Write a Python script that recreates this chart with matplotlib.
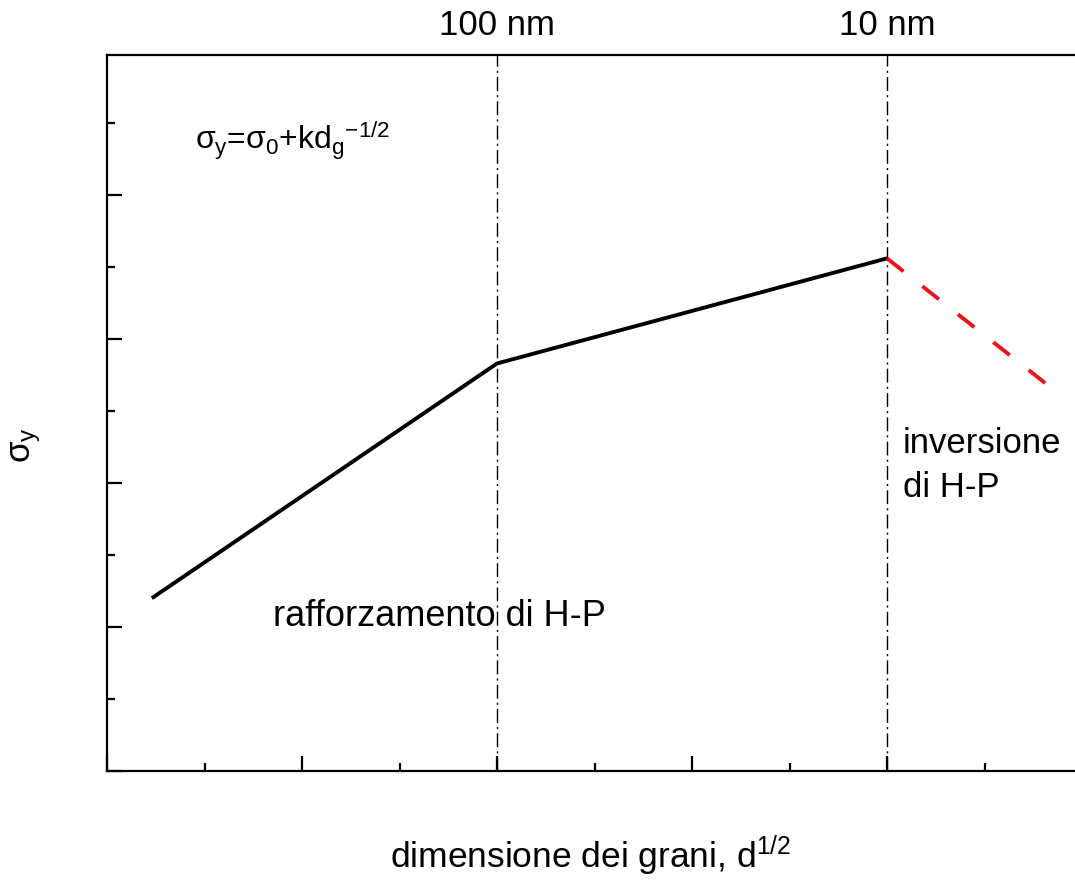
import matplotlib
matplotlib.use("Agg")
import matplotlib.pyplot as plt
from matplotlib.ticker import MultipleLocator, NullFormatter

# Hall-Petch sketch values (arbitrary units)
hp_x = [0.23, 2.0, 4.0]
hp_y = [1.20, 2.83, 3.56]
inv_x = [4.0, 4.815]
inv_y = [3.56, 2.69]
guide_x = [2.0, 4.0]
top_labels = ["100 nm", "10 nm"]

plt.rcParams["font.family"] = ["Liberation Sans", "DejaVu Sans"]
plt.rcParams["mathtext.fontset"] = "custom"
plt.rcParams["mathtext.rm"] = "Liberation Sans"
plt.rcParams["mathtext.it"] = "Liberation Sans"
plt.rcParams["mathtext.bf"] = "Liberation Sans:bold"

fig = plt.figure(figsize=(10.75, 8.81), dpi=100)
ax = fig.add_axes([107 / 1075, 110 / 881, 968 / 1075, 716 / 881])

for gx in guide_x:
    ax.axvline(gx, color="black", lw=1.0, linestyle=(0, (10, 3, 1.5, 3)), zorder=1)

ax.plot(hp_x, hp_y, color="black", lw=2.8, solid_capstyle="butt", zorder=3)
ax.plot(inv_x, inv_y, color="#e8161b", lw=2.8, linestyle=(0, (5.4, 6.2)), zorder=3)

ax.set_xlim(0, 968 / 195)
ax.set_ylim(0, 716 / 144)

ax.xaxis.set_major_locator(MultipleLocator(1))
ax.xaxis.set_minor_locator(MultipleLocator(0.5))
ax.yaxis.set_major_locator(MultipleLocator(1))
ax.yaxis.set_minor_locator(MultipleLocator(0.5))
ax.xaxis.set_major_formatter(NullFormatter())
ax.yaxis.set_major_formatter(NullFormatter())
ax.tick_params(which="major", direction="in", length=11, width=1.6)
ax.tick_params(which="minor", direction="in", length=6, width=1.6)
ax.tick_params(top=False, right=False, which="both")

for side in ["left", "bottom", "top"]:
    ax.spines[side].set_linewidth(1.6)
ax.spines["right"].set_visible(False)

sec = ax.secondary_xaxis("top")
sec.set_xticks(guide_x)
sec.set_xticklabels(top_labels, fontsize=25)
sec.tick_params(length=0, pad=9)
sec.spines["top"].set_visible(False)

ax.set_xlabel("dimensione dei grani, d$^{1/2}$", fontsize=25.5)
ax.xaxis.set_label_coords(0.5, -0.088)
ax.set_ylabel(r"$\sigma_{y}$", fontsize=25)
ax.yaxis.set_label_coords(-0.066, 0.455)

ax.text(0.45, 4.31, r"$\sigma_y$=$\sigma_0$+kd$_g{}^{-1/2}$", fontsize=23,
        va="baseline")
ax.text(0.851, 1.01, "rafforzamento di H-P", fontsize=26, va="baseline")
ax.text(4.08, 2.21, "inversione", fontsize=25, va="baseline")
ax.text(4.08, 1.90, "di H-P", fontsize=25, va="baseline")

fig.savefig("out.png", dpi=100)
